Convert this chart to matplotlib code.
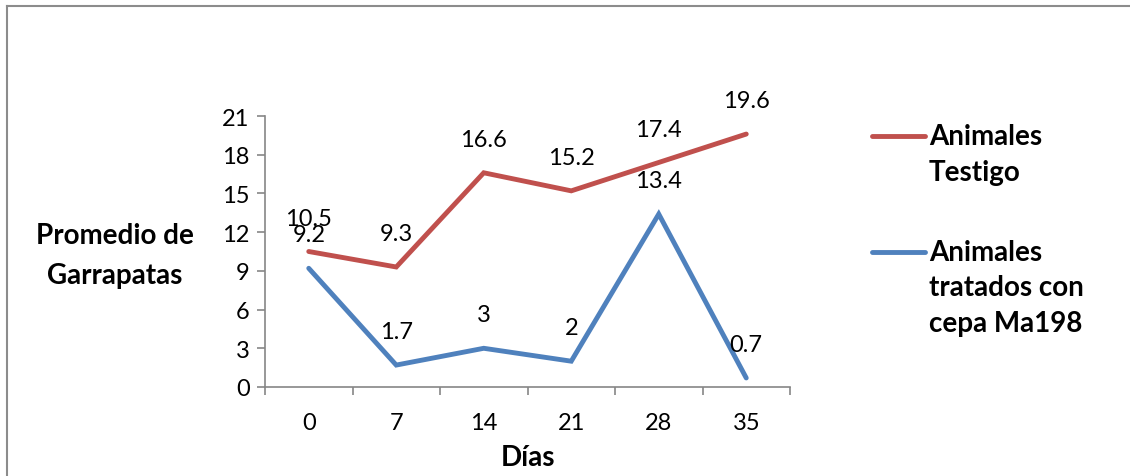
import matplotlib
matplotlib.use("Agg")
import matplotlib.pyplot as plt
from matplotlib.lines import Line2D

days = ["0", "7", "14", "21", "28", "35"]
testigo = [10.5, 9.3, 16.6, 15.2, 17.4, 19.6]
tratados = [9.2, 1.7, 3, 2, 13.4, 0.7]
testigo_labels = ["10.5", "9.3", "16.6", "15.2", "17.4", "19.6"]
tratados_labels = ["9.2", "1.7", "3", "2", "13.4", "0.7"]
y_ticks = [0, 3, 6, 9, 12, 15, 18, 21]

RED = "#C0504D"
BLUE = "#4F81BD"
GRID = "#868686"
FONT = "Lato"
NUM_SIZE = 17
BOLD_SIZE = 20

W, H = 1130, 477
fig = plt.figure(figsize=(W / 100, H / 100), dpi=100)


def fx(px):
    return px / W


def fy(py):
    return 1 - py / H


ax = fig.add_axes([fx(265), fy(388), fx(790) - fx(265), fy(117) - fy(388)])
x = list(range(len(days)))

ax.plot(x, testigo, color=RED, lw=3.5, solid_capstyle="round", solid_joinstyle="miter")
ax.plot(x, tratados, color=BLUE, lw=3.5, solid_capstyle="round", solid_joinstyle="miter")

for xi, v, s in zip(x, testigo, testigo_labels):
    ax.annotate(s, (xi, v), xytext=(0, 24), textcoords="offset points",
                ha="center", va="center", fontsize=NUM_SIZE, family=FONT)
for xi, v, s in zip(x, tratados, tratados_labels):
    ax.annotate(s, (xi, v), xytext=(0, 24), textcoords="offset points",
                ha="center", va="center", fontsize=NUM_SIZE, family=FONT)

ax.set_xlim(-0.5, len(days) - 0.5)
ax.set_ylim(0, 21)
ax.set_yticks(y_ticks)
ax.set_yticklabels([str(t) for t in y_ticks], family=FONT, fontsize=NUM_SIZE)
ax.set_xticks(x)
ax.set_xticklabels(days, family=FONT, fontsize=NUM_SIZE)
ax.set_xticks([i - 0.5 for i in range(len(days) + 1)], minor=True)
ax.tick_params(axis="x", which="major", length=0, pad=18)
ax.tick_params(axis="x", which="minor", length=6, width=1.2, color=GRID, direction="out")
ax.tick_params(axis="y", length=6, width=1.2, color=GRID, direction="out", pad=5)

for side in ("top", "right"):
    ax.spines[side].set_visible(False)
for side in ("left", "bottom"):
    ax.spines[side].set_color(GRID)
    ax.spines[side].set_linewidth(1.2)

# axis titles
fig.text(fx(115), fy(236), "Promedio de", ha="center", va="center",
         fontsize=BOLD_SIZE, fontweight="bold", family=FONT)
fig.text(fx(115), fy(276), "Garrapatas", ha="center", va="center",
         fontsize=BOLD_SIZE, fontweight="bold", family=FONT)
fig.text(fx(528), fy(458), "Días", ha="center", va="center",
         fontsize=BOLD_SIZE, fontweight="bold", family=FONT)

# legend
legend_items = [
    (RED, 137, ["Animales", "Testigo"]),
    (BLUE, 253, ["Animales", "tratados con", "cepa Ma198"]),
]
for color, ypx, lines in legend_items:
    fig.add_artist(Line2D([fx(872), fx(925)], [fy(ypx), fy(ypx)], color=color,
                          lw=3.5, solid_capstyle="round"))
    for i, line in enumerate(lines):
        fig.text(fx(929), fy(ypx + i * 35.5), line, ha="left", va="center",
                 fontsize=BOLD_SIZE, fontweight="bold", family=FONT)

# chart frame
fig.add_artist(Line2D([fx(7), fx(7)], [fy(7), 0], color="#8c8c8c", lw=1.5))
fig.add_artist(Line2D([fx(7), 1], [fy(7), fy(7)], color="#8c8c8c", lw=1.5))

fig.savefig("out.png", dpi=100)
